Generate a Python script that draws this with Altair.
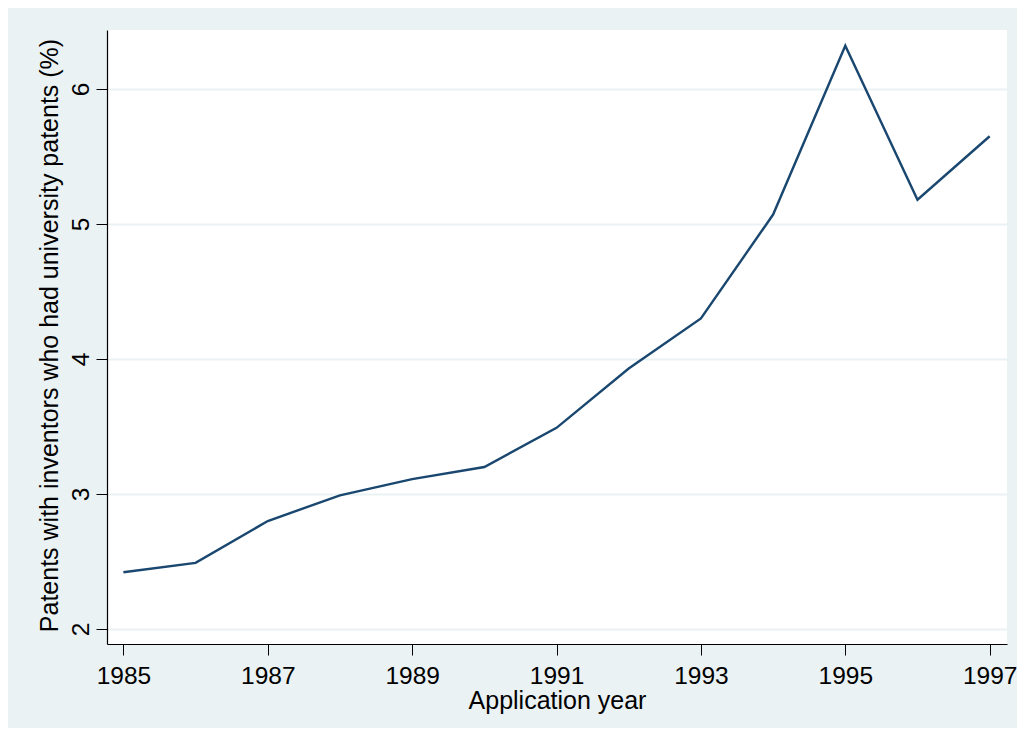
import altair as alt
import pandas as pd

years = [1985, 1986, 1987, 1988, 1989, 1990, 1991, 1992, 1993, 1994, 1995, 1996, 1997]
share = [2.42, 2.49, 2.80, 2.99, 3.11, 3.20, 3.49, 3.93, 4.30, 5.07, 6.32, 5.18, 5.65]
x_ticks = [1985, 1987, 1989, 1991, 1993, 1995, 1997]
y_ticks = [2, 3, 4, 5, 6]

df = pd.DataFrame({"year": years, "share": share})

FONT = "Liberation Sans"

chart = alt.Chart(df).mark_line(color="#1a476f", strokeWidth=2.4).encode(
    x=alt.X(
        "year:Q",
        scale=alt.Scale(domain=[1984.773, 1997.24], nice=False, zero=False),
        axis=alt.Axis(
            values=x_ticks, format="d", title="Application year", grid=False,
            domainColor="black", domainWidth=1.2, tickColor="black", tickSize=11, tickWidth=1,
            labelFont=FONT, labelFontSize=24.5, labelColor="black",
            labelBaseline="alphabetic", labelPadding=28, labelAlign="center",
            titleFont=FONT, titleFontSize=25, titleFontWeight="normal", titleColor="black",
            titleBaseline="alphabetic", titleY=64, titleX=450, titleAlign="center",
            labelFlush=False, labelOverlap=False,
        ),
    ),
    y=alt.Y(
        "share:Q",
        scale=alt.Scale(domain=[1.889, 6.437], nice=False, zero=False),
        axis=alt.Axis(
            values=y_ticks, format="d",
            title="Patents with inventors who had university patents (%)",
            grid=True, gridColor="#EAF2F3", gridWidth=2,
            domainColor="black", domainWidth=1.2, tickColor="black", tickSize=11, tickWidth=1,
            labelFont=FONT, labelFontSize=24.5, labelColor="black",
            labelAngle=270, labelAlign="center", labelBaseline="alphabetic", labelPadding=8,
            titleFont=FONT, titleFontSize=25, titleFontWeight="normal", titleColor="black",
            titleAngle=270, titleAlign="center", titleBaseline="alphabetic",
            titleX=-50, titleY=305,
            labelFlush=False, labelOverlap=False,
        ),
    ),
).properties(
    width=900,
    height=614,
    autosize=alt.AutoSizeParams(type="none"),
    padding={"left": 99, "top": 22, "right": 10, "bottom": 84},
    background="#EAF2F3",
).configure_view(fill="white", stroke=None)

chart.save("out.html", embed_options={"renderer": "svg", "actions": False})
